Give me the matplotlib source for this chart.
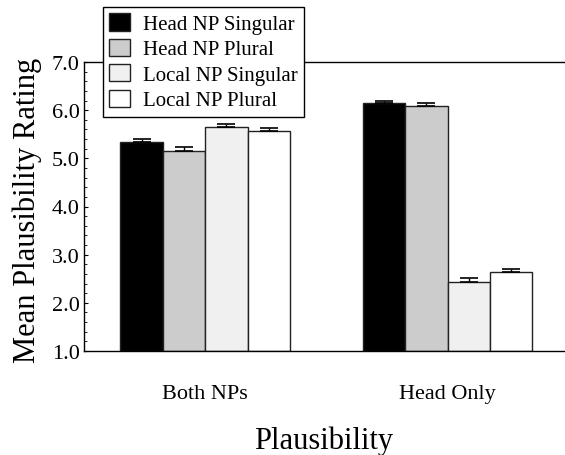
import matplotlib
matplotlib.use("Agg")
import matplotlib.pyplot as plt
import numpy as np
from matplotlib.ticker import MultipleLocator

plt.rcParams['font.family'] = ['Liberation Serif', 'DejaVu Serif']

groups = ["Both NPs", "Head Only"]
series = ["Head NP Singular", "Head NP Plural", "Local NP Singular", "Local NP Plural"]
means = {
    "Head NP Singular": [5.33, 6.14],
    "Head NP Plural": [5.15, 6.09],
    "Local NP Singular": [5.66, 2.43],
    "Local NP Plural": [5.56, 2.63],
}
errors = {
    "Head NP Singular": [0.07, 0.06],
    "Head NP Plural": [0.08, 0.06],
    "Local NP Singular": [0.06, 0.08],
    "Local NP Plural": [0.07, 0.07],
}
colors = ["#000000", "#cccccc", "#f0f0f0", "#ffffff"]
yticks = [1.0, 2.0, 3.0, 4.0, 5.0, 6.0, 7.0]

fig = plt.figure(figsize=(5.65, 4.56), dpi=100)
ax = fig.add_axes([84/565, 1 - 352/456, (564-84)/565, (352-63)/456])

x = np.arange(len(groups))
w = 0.175
for i, s in enumerate(series):
    pos = x + (i - 1.5) * w
    vals = np.array(means[s])
    err = np.array(errors[s])
    ax.bar(pos, vals - 1.0, bottom=1.0, width=w, color=colors[i],
           edgecolor="#222222", linewidth=1.0, label=s, zorder=2)
    ax.errorbar(pos, vals, yerr=[np.zeros_like(err), err], fmt='none',
                ecolor='black', elinewidth=1.0, capsize=6.5, capthick=1.2, zorder=3)

ax.set_xlim(-0.5, 1.48)
ax.set_ylim(1.0, 7.0)
ax.set_yticks(yticks)
ax.set_yticklabels([f"{v:.1f}" for v in yticks])
ax.yaxis.set_minor_locator(MultipleLocator(0.2))
ax.tick_params(axis='y', which='major', direction='in', length=3, width=0.8,
               labelsize=16, pad=3)
ax.tick_params(axis='y', which='minor', direction='in', length=2, width=0.6)
ax.set_xticks(x)
ax.set_xticklabels(groups)
ax.tick_params(axis='x', length=0, labelsize=16, pad=24)

ax.spines['right'].set_visible(False)
for sp in ['left', 'top', 'bottom']:
    ax.spines[sp].set_linewidth(1.0)

ax.set_ylabel("Mean Plausibility Rating", fontsize=22)
ax.yaxis.set_label_coords(-0.087, 0.49)
ax.set_xlabel("Plausibility", fontsize=22, labelpad=16)

leg = fig.legend(loc='upper left', bbox_to_anchor=(103/565, 1 - 8/456),
                 bbox_transform=fig.transFigure, fontsize=15, frameon=True,
                 fancybox=False, framealpha=1, edgecolor='black',
                 handlelength=1.0, handleheight=0.9, handletextpad=0.6,
                 labelspacing=0.22, borderpad=0.3, borderaxespad=0)
leg.get_frame().set_linewidth(1.0)

fig.savefig("out.png", dpi=100)
